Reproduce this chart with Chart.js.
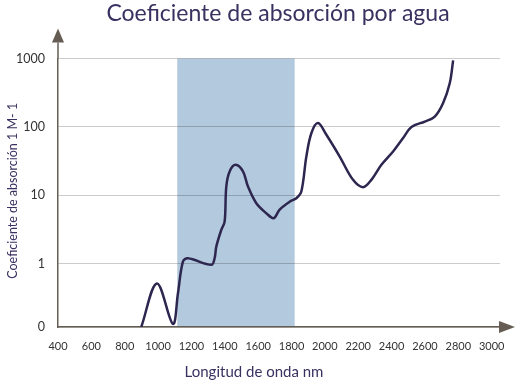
<!DOCTYPE html>
<html>
<head>
<meta charset="utf-8">
<script src="https://cdn.jsdelivr.net/npm/chart.js@4"></script>
<style>
  html, body { margin: 0; padding: 0; background: #fff; }
  #wrap { width: 524px; height: 391px; }
</style>
</head>
<body>
<div id="wrap"><canvas id="chart"></canvas></div>
<script>
// Longitud de onda (nm) y coeficiente de absorción
const wavelengths = [899, 993, 1089, 1119, 1149, 1179, 1319, 1339, 1349, 1379, 1399, 1409, 1429, 1465,
    1509, 1539, 1589, 1649, 1693, 1729, 1789, 1829, 1859, 1889, 1919, 1959, 2009, 2089, 2169, 2229,
    2279, 2339, 2409, 2469, 2519, 2599, 2659, 2709, 2749, 2769];
const absorption = [0.12, 0.52, 0.133, 0.37, 1.08, 1.21, 0.97, 1.21, 1.79, 3.14, 4.15, 13.5, 22.4, 28,
    22.4, 13.5, 7.7, 5.5, 4.66, 6.2, 8.1, 9.1, 11.4, 37, 81, 114, 77, 37, 16.9, 13.2,
    16.9, 28, 43.8, 69, 100, 120, 142, 224, 438, 938];
const xTicks = [400, 600, 800, 1000, 1200, 1400, 1600, 1800, 2000, 2200, 2400, 2600, 2800, 3000];
const yTicks = [0.12, 1, 10, 100, 1000];
const yTickLabels = ['0', '1', '10', '100', '1000'];
const bandStart = 1115;
const bandEnd = 1819;

const titleText = 'Coeficiente de absorción por agua';
const xTitle = 'Longitud de onda nm';
const yTitle = 'Coeficiente de absorción 1 M- 1';

const purple = '#3a3160';
const axisColor = '#655d53';

const bandPlugin = {
    id: 'band',
    beforeDraw(chart) {
        const { ctx, chartArea, scales } = chart;
        const x1 = scales.x.getPixelForValue(bandStart);
        const x2 = scales.x.getPixelForValue(bandEnd);
        ctx.save();
        ctx.fillStyle = '#b3c9dd';
        ctx.fillRect(x1, chartArea.top, x2 - x1, chartArea.bottom - chartArea.top);
        ctx.restore();
    }
};

const arrowsPlugin = {
    id: 'arrows',
    afterDraw(chart) {
        const { ctx, chartArea } = chart;
        const l = chartArea.left, b = chartArea.bottom, r = chartArea.right, t = chartArea.top;
        ctx.save();
        ctx.strokeStyle = axisColor;
        ctx.fillStyle = axisColor;
        ctx.lineWidth = 1.5;
        ctx.beginPath();
        ctx.moveTo(l, t);
        ctx.lineTo(l, t - 16);
        ctx.stroke();
        // flecha vertical
        ctx.beginPath();
        ctx.moveTo(l, t - 30);
        ctx.lineTo(l - 6, t - 16);
        ctx.lineTo(l + 6, t - 16);
        ctx.closePath();
        ctx.fill();
        // flecha horizontal
        ctx.beginPath();
        ctx.moveTo(r + 15, b);
        ctx.lineTo(r - 1, b - 6);
        ctx.lineTo(r - 1, b + 6);
        ctx.closePath();
        ctx.fill();

        // títulos
        ctx.fillStyle = purple;
        ctx.textAlign = 'center';
        ctx.textBaseline = 'middle';
        ctx.font = '23px Lato';
        ctx.fillText(titleText, 278, 14);
        ctx.font = '15px Lato';
        ctx.fillText(xTitle, 254, 372);
        ctx.translate(13, (t + b) / 2 - 2);
        ctx.rotate(-Math.PI / 2);
        ctx.font = '12.5px Lato';
        ctx.fillText(yTitle, 0, 0);
        ctx.restore();
    }
};

new Chart(document.getElementById('chart'), {
    type: 'line',
    data: {
        datasets: [{
            data: wavelengths.map((w, i) => ({ x: w, y: absorption[i] })),
            borderColor: '#2d2750',
            borderWidth: 2.5,
            pointRadius: 0,
            tension: 0.35,
            fill: false
        }]
    },
    options: {
        responsive: true,
        maintainAspectRatio: false,
        animation: false,
        layout: { padding: { left: 0, right: 24, top: 58.5, bottom: 0 } },
        plugins: {
            legend: { display: false },
            tooltip: { enabled: false },
            title: { display: false }
        },
        scales: {
            x: {
                type: 'linear',
                min: 400,
                max: 3050,
                afterBuildTicks: s => { s.ticks = xTicks.map(v => ({ value: v })); },
                afterFit: s => { s.height = 64; },
                grid: { display: false, drawTicks: false },
                border: { color: axisColor, width: 1.5 },
                ticks: {
                    color: '#333',
                    font: { family: 'Lato', size: 11 },
                    padding: 13,
                    maxRotation: 0,
                    autoSkip: false,
                    callback: v => String(v)
                }
            },
            y: {
                type: 'logarithmic',
                min: 0.12,
                max: 1000,
                afterBuildTicks: s => { s.ticks = yTicks.map(v => ({ value: v })); },
                afterFit: s => { s.width = 58; },
                grid: { color: 'rgba(0,0,0,0.2)', drawTicks: false, lineWidth: 1 },
                border: { color: axisColor, width: 1.5 },
                ticks: {
                    color: '#333',
                    font: { family: 'Lato', size: 12.5 },
                    padding: 13,
                    callback: (v) => yTickLabels[yTicks.indexOf(v)] ?? ''
                }
            }
        }
    },
    plugins: [bandPlugin, arrowsPlugin]
});
</script>
</body>
</html>
